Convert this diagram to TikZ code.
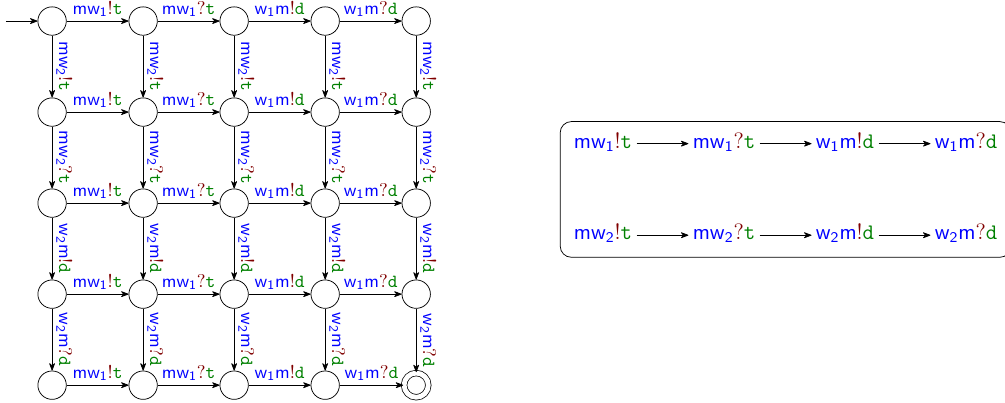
\documentclass[tikz,border=0pt]{standalone}
\usepackage{tikz}
\usetikzlibrary{arrows.meta, automata, positioning, fit}

\newcommand{\act}[3]{\textcolor{blue}{\textsf{#1}}\textcolor{red!50!black}{#2}\textcolor{green!50!black}{\texttt{#3}}}
% actions along a row
\newcommand{\la}{\act{mw\textsubscript{1}}{!}{t}}
\newcommand{\lb}{\act{mw\textsubscript{1}}{?}{t}}
\newcommand{\lc}{\act{w\textsubscript{1}m}{!}{d}}
\newcommand{\ld}{\act{w\textsubscript{1}m}{?}{d}}
% actions along a column
\newcommand{\va}{\act{mw\textsubscript{2}}{!}{t}}
\newcommand{\vb}{\act{mw\textsubscript{2}}{?}{t}}
\newcommand{\vc}{\act{w\textsubscript{2}m}{!}{d}}
\newcommand{\vd}{\act{w\textsubscript{2}m}{?}{d}}

\begin{document}
\begin{tikzpicture}[
  node distance=1.73cm,on grid,>={Stealth[round]},inner sep=2.1pt,
  initial text=, initial distance=0.6cm,
  every state/.style={minimum size=0.54cm, inner sep=0pt},
  final/.style={accepting, double distance=2.6pt, minimum size=0.46cm},
  item/.style={font=\large, inner sep=2.2pt, text height=1.6ex, text depth=0.5ex},
  ]
  \useasboundingbox (-0.99,0.40) rectangle (18.11,-7.24);

  % product automaton
  \node[state,initial] (q_00)                {};
  \node[state]         (q_01) [right=of q_00] {};
  \node[state]         (q_02) [right=of q_01] {};
  \node[state]         (q_03) [right=of q_02] {};
  \node[state]         (q_04) [right=of q_03] {};
  \node[state]         (q_10) [below=of q_00] {};
  \node[state]         (q_11) [right=of q_10] {};
  \node[state]         (q_12) [right=of q_11] {};
  \node[state]         (q_13) [right=of q_12] {};
  \node[state]         (q_14) [right=of q_13] {};
  \node[state]         (q_20) [below=of q_10] {};
  \node[state]         (q_21) [right=of q_20] {};
  \node[state]         (q_22) [right=of q_21] {};
  \node[state]         (q_23) [right=of q_22] {};
  \node[state]         (q_24) [right=of q_23] {};
  \node[state]         (q_30) [below=of q_20] {};
  \node[state]         (q_31) [right=of q_30] {};
  \node[state]         (q_32) [right=of q_31] {};
  \node[state]         (q_33) [right=of q_32] {};
  \node[state]         (q_34) [right=of q_33] {};
  \node[state]         (q_40) [below=of q_30] {};
  \node[state]         (q_41) [right=of q_40] {};
  \node[state]         (q_42) [right=of q_41] {};
  \node[state]         (q_43) [right=of q_42] {};
  \node[state,final]   (q_44) [right=of q_43] {};

  \path[->] (q_00) edge node [above] {\la} (q_01)
            (q_01) edge node [above] {\lb} (q_02)
            (q_02) edge node [above] {\lc} (q_03)
            (q_03) edge node [above] {\ld} (q_04)
            (q_10) edge node [above] {\la} (q_11)
            (q_11) edge node [above] {\lb} (q_12)
            (q_12) edge node [above] {\lc} (q_13)
            (q_13) edge node [above] {\ld} (q_14)
            (q_20) edge node [above] {\la} (q_21)
            (q_21) edge node [above] {\lb} (q_22)
            (q_22) edge node [above] {\lc} (q_23)
            (q_23) edge node [above] {\ld} (q_24)
            (q_30) edge node [above] {\la} (q_31)
            (q_31) edge node [above] {\lb} (q_32)
            (q_32) edge node [above] {\lc} (q_33)
            (q_33) edge node [above] {\ld} (q_34)
            (q_40) edge node [above] {\la} (q_41)
            (q_41) edge node [above] {\lb} (q_42)
            (q_42) edge node [above] {\lc} (q_43)
            (q_43) edge node [above] {\ld} (q_44);

  \path[->] (q_00) edge node [above,sloped] {\va} (q_10)
            (q_10) edge node [above,sloped] {\vb} (q_20)
            (q_20) edge node [above,sloped] {\vc} (q_30)
            (q_30) edge node [above,sloped] {\vd} (q_40)
            (q_01) edge node [above,sloped] {\va} (q_11)
            (q_11) edge node [above,sloped] {\vb} (q_21)
            (q_21) edge node [above,sloped] {\vc} (q_31)
            (q_31) edge node [above,sloped] {\vd} (q_41)
            (q_02) edge node [above,sloped] {\va} (q_12)
            (q_12) edge node [above,sloped] {\vb} (q_22)
            (q_22) edge node [above,sloped] {\vc} (q_32)
            (q_32) edge node [above,sloped] {\vd} (q_42)
            (q_03) edge node [above,sloped] {\va} (q_13)
            (q_13) edge node [above,sloped] {\vb} (q_23)
            (q_23) edge node [above,sloped] {\vc} (q_33)
            (q_33) edge node [above,sloped] {\vd} (q_43)
            (q_04) edge node [above,sloped] {\va} (q_14)
            (q_14) edge node [above,sloped] {\vb} (q_24)
            (q_24) edge node [above,sloped] {\vc} (q_34)
            (q_34) edge node [above,sloped] {\vd} (q_44);

  % the two components
  \node[item] (r_1) at (10.47,-2.33)    {\la};
  \node[item] (r_2) [right=2.3cm of r_1] {\lb};
  \node[item] (r_3) [right=2.3cm of r_2] {\lc};
  \node[item] (r_4) [right=2.3cm of r_3] {\ld};
  \node[item] (s_1) at (10.47,-4.07)    {\va};
  \node[item] (s_2) [right=2.3cm of s_1] {\vb};
  \node[item] (s_3) [right=2.3cm of s_2] {\vc};
  \node[item] (s_4) [right=2.3cm of s_3] {\vd};

  \path[->] (r_1) edge (r_2)
            (r_2) edge (r_3)
            (r_3) edge (r_4)
            (s_1) edge (s_2)
            (s_2) edge (s_3)
            (s_3) edge (s_4);

  \node[draw, rounded corners=6pt, inner sep=5pt,
        fit=(r_1) (r_4) (s_1) (s_4)] (box) {};
\end{tikzpicture}
\end{document}
